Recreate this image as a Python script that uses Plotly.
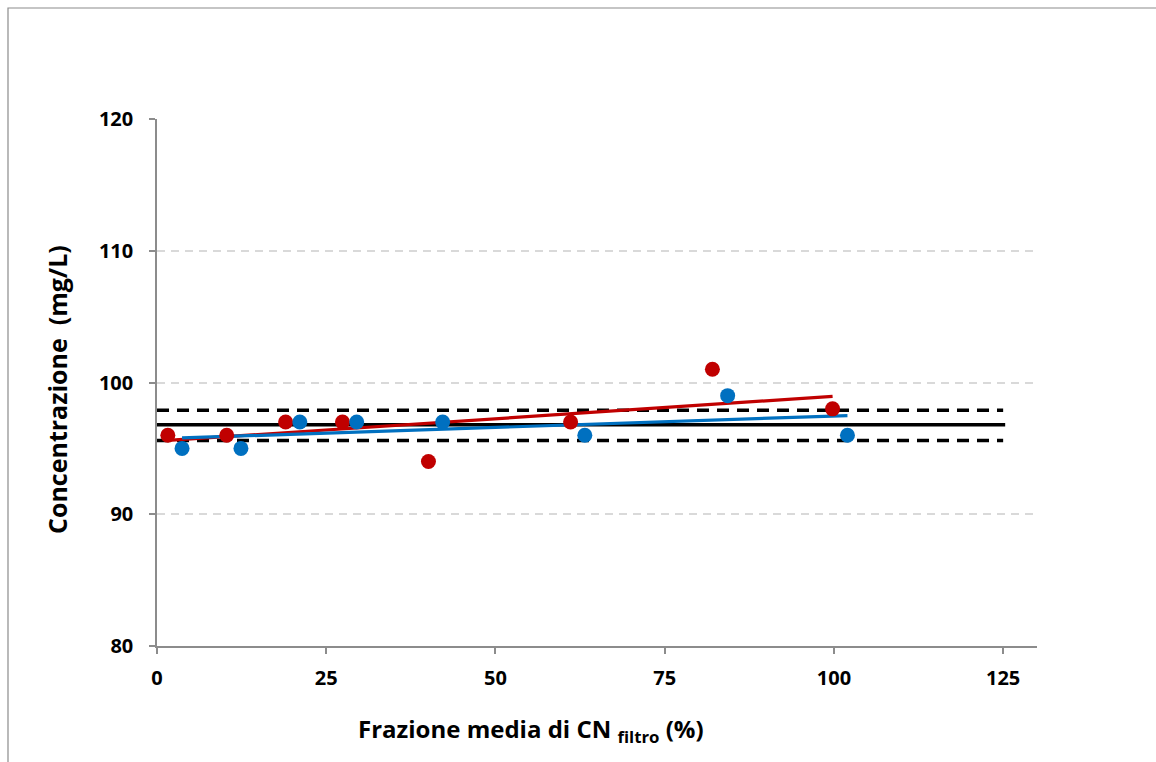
import numpy as np
import plotly.graph_objects as go

# Measured concentrations vs. mean CN fraction on the filter
x_red = [1.6, 10.3, 19.0, 27.4, 40.1, 61.1, 82.05, 99.8]
y_red = [96, 96, 97, 97, 94, 97, 101, 98]
x_blue = [3.7, 12.4, 21.1, 29.5, 42.2, 63.2, 84.3, 102.0]
y_blue = [95, 95, 97, 97, 97, 96, 99, 96]

# Reference value and its band
ref_mean = 96.8
ref_upper = 97.9
ref_lower = 95.6
ref_x = [0, 125]

x_ticks = [0, 25, 50, 75, 100, 125]
y_ticks = [80, 90, 100, 110, 120]

RED = "#C00000"
BLUE = "#0070C0"
FONT = "Open Sans"

fig = go.Figure()

# Reference band lines
fig.add_trace(go.Scatter(x=ref_x, y=[ref_upper] * 2, mode="lines",
                         line=dict(color="black", width=3.5, dash="12px,8px"),
                         showlegend=False, hoverinfo="skip"))
fig.add_trace(go.Scatter(x=ref_x, y=[ref_lower] * 2, mode="lines",
                         line=dict(color="black", width=3.5, dash="12px,8px"),
                         showlegend=False, hoverinfo="skip"))
fig.add_trace(go.Scatter(x=[0, 125.3], y=[ref_mean] * 2, mode="lines",
                         line=dict(color="black", width=3.5),
                         showlegend=False, hoverinfo="skip"))

# Linear trend lines over each series' range
for xs, ys, col in [(x_red, y_red, RED), (x_blue, y_blue, BLUE)]:
    k, q = np.polyfit(xs, ys, 1)
    xt = np.array([min(xs), max(xs)])
    fig.add_trace(go.Scatter(x=xt, y=k * xt + q, mode="lines",
                             line=dict(color=col, width=3.2),
                             showlegend=False, hoverinfo="skip"))

# Data points
fig.add_trace(go.Scatter(x=x_red, y=y_red, mode="markers",
                         marker=dict(color=RED, size=15), showlegend=False))
fig.add_trace(go.Scatter(x=x_blue, y=y_blue, mode="markers",
                         marker=dict(color=BLUE, size=15), showlegend=False))

tick_font = dict(family=FONT, size=20, color="black", weight="bold")

fig.update_layout(
    width=1156, height=762,
    margin=dict(l=157, r=119, t=119, b=116),
    plot_bgcolor="white", paper_bgcolor="white",
    font=dict(family=FONT, color="black"),
    xaxis=dict(range=[0, 130], tickvals=x_ticks, ticktext=[str(v) for v in x_ticks],
               showgrid=False, zeroline=False, showline=True,
               linecolor="#8c8c8c", linewidth=1.5,
               ticks="outside", ticklen=6, tickcolor="#8c8c8c", tickwidth=1.5,
               ticklabelstandoff=7, tickfont=tick_font),
    yaxis=dict(range=[80, 120], tickvals=y_ticks, ticktext=[str(v) for v in y_ticks],
               showgrid=True, gridcolor="#d9d9d9", griddash="8px,6px", gridwidth=1.5,
               zeroline=False, showline=True,
               linecolor="#8c8c8c", linewidth=1.5,
               ticks="outside", ticklen=6, tickcolor="#8c8c8c", tickwidth=1.5,
               ticklabelstandoff=12, tickfont=tick_font),
    shapes=[dict(type="rect", xref="paper", yref="paper",
                 x0=(8 - 157) / 880, x1=2.0, y0=-1.0, y1=(646 - 8) / 527,
                 line=dict(color="#8c8c8c", width=1.2), fillcolor="rgba(0,0,0,0)",
                 layer="below")],
    annotations=[
        dict(text="<b>Frazione media di CN <sub>filtro</sub> (%)</b>",
             xref="paper", yref="paper", x=(531 - 157) / 880, y=(646 - 730) / 527,
             xanchor="center", yanchor="middle", showarrow=False,
             font=dict(family=FONT, size=24, color="black")),
        dict(text="<b>Concentrazione  (mg/L)</b>",
             xref="paper", yref="paper", x=(57 - 157) / 880, y=(646 - 390) / 527,
             xanchor="center", yanchor="middle", showarrow=False, textangle=-90,
             font=dict(family=FONT, size=25, color="black")),
    ],
)

fig.write_html("out.html")
